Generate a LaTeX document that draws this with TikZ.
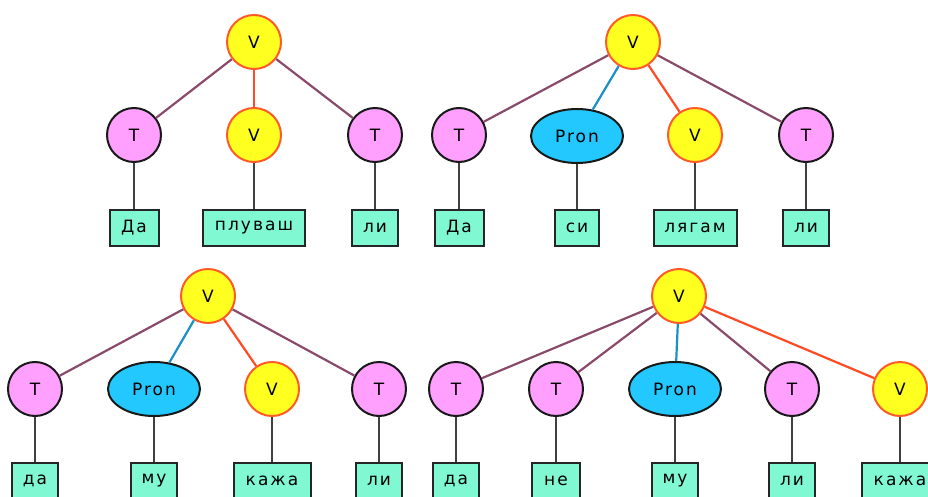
\documentclass[tikz,border=0pt]{standalone}
\usepackage{fontspec}
\setmainfont{DejaVu Sans}[LetterSpace=12]
\usetikzlibrary{shapes.geometric}

\definecolor{tfill}{HTML}{FFA0FF}
\definecolor{vfill}{HTML}{FFFF20}
\definecolor{vline}{HTML}{FF5A28}
\definecolor{pfill}{HTML}{22C8FF}
\definecolor{leaffill}{HTML}{80F8D2}
\definecolor{tedge}{HTML}{8A4A6A}
\definecolor{vedge}{HTML}{FF4A24}
\definecolor{pedge}{HTML}{1A90C4}
\definecolor{ledge}{HTML}{404040}

\tikzset{
  lbl/.style={font=\fontsize{17}{17}\selectfont, text=black},
  tnode/.style={lbl, circle, draw=black!90, line width=2pt, fill=tfill, minimum size=54pt, inner sep=0pt},
  vnode/.style={lbl, circle, draw=vline, line width=2pt, fill=vfill, minimum size=54pt, inner sep=0pt},
  pnode/.style={lbl, ellipse, draw=black!90, line width=2pt, fill=pfill, minimum width=92pt, minimum height=54pt, inner sep=0pt},
  leaf/.style={lbl, rectangle, draw=black!85, line width=2pt, fill=leaffill, minimum height=36pt, inner xsep=6pt, inner ysep=0pt},
  te/.style={draw=tedge, line width=2.2pt},
  ve/.style={draw=vedge, line width=2.2pt},
  pe/.style={draw=pedge, line width=2.2pt},
  le/.style={draw=ledge, line width=2pt}
}

\begin{document}
\begin{tikzpicture}[x=1pt, y=-1pt]
\useasboundingbox (0,0) rectangle (928,497);

% ---- tree 1: Да плуваш ли
\node[vnode] (a0) at (254,42) {V};
\node[tnode] (a1) at (134,135) {T};
\node[vnode] (a2) at (254,135) {V};
\node[tnode] (a3) at (375,135) {T};
\node[leaf, minimum width=49pt] (a1w) at (134,227.5) {Да};
\node[leaf, minimum width=102pt] (a2w) at (254,227.5) {плуваш};
\node[leaf, minimum width=46pt] (a3w) at (375,227.5) {ли};

% ---- tree 2: Да си лягам ли
\node[vnode] (b0) at (633,42) {V};
\node[tnode] (b1) at (459,135) {T};
\node[pnode] (b2) at (577,136) {Pron};
\node[vnode] (b3) at (695,135) {V};
\node[tnode] (b4) at (806,135) {T};
\node[leaf, minimum width=49pt] (b1w) at (459,227.5) {Да};
\node[leaf, minimum width=44pt] (b2w) at (577,227.5) {си};
\node[leaf, minimum width=83pt] (b3w) at (695,227.5) {лягам};
\node[leaf, minimum width=46pt] (b4w) at (806,227.5) {ли};

% ---- tree 3: да му кажа ли
\node[vnode] (c0) at (208,296) {V};
\node[tnode] (c1) at (35,389) {T};
\node[pnode] (c2) at (154,389) {Pron};
\node[vnode] (c3) at (272,389) {V};
\node[tnode] (c4) at (379,389) {T};
\node[leaf, minimum width=46pt] (c1w) at (35,481) {да};
\node[leaf, minimum width=46pt] (c2w) at (154,481) {му};
\node[leaf, minimum width=77pt] (c3w) at (272,481) {кажа};
\node[leaf, minimum width=46pt] (c4w) at (379,481) {ли};

% ---- tree 4: да не му ли кажа
\node[vnode] (d0) at (679,296) {V};
\node[tnode] (d1) at (456,389) {T};
\node[tnode] (d2) at (556,389) {T};
\node[pnode] (d3) at (675,389) {Pron};
\node[tnode] (d4) at (792,389) {T};
\node[vnode] (d5) at (900,389) {V};
\node[leaf, minimum width=46pt] (d1w) at (456,481) {да};
\node[leaf, minimum width=48pt] (d2w) at (556,481) {не};
\node[leaf, minimum width=46pt] (d3w) at (675,481) {му};
\node[leaf, minimum width=46pt] (d4w) at (792,481) {ли};
\node[leaf, minimum width=77pt] (d5w) at (900,481) {кажа};

% ---- connectors
\path[te] (a0) -- (a1);
\path[ve] (a0) -- (a2);
\path[te] (a0) -- (a3);
\foreach \n in {a1,a2,a3} \path[le] (\n) -- (\n w);

\path[te] (b0) -- (b1);
\path[pe] (b0) -- (b2);
\path[ve] (b0) -- (b3);
\path[te] (b0) -- (b4);
\foreach \n in {b1,b2,b3,b4} \path[le] (\n) -- (\n w);

\path[te] (c0) -- (c1);
\path[pe] (c0) -- (c2);
\path[ve] (c0) -- (c3);
\path[te] (c0) -- (c4);
\foreach \n in {c1,c2,c3,c4} \path[le] (\n) -- (\n w);

\path[te] (d0) -- (d1);
\path[te] (d0) -- (d2);
\path[pe] (d0) -- (d3);
\path[te] (d0) -- (d4);
\path[ve] (d0) -- (d5);
\foreach \n in {d1,d2,d3,d4,d5} \path[le] (\n) -- (\n w);
\end{tikzpicture}
\end{document}
